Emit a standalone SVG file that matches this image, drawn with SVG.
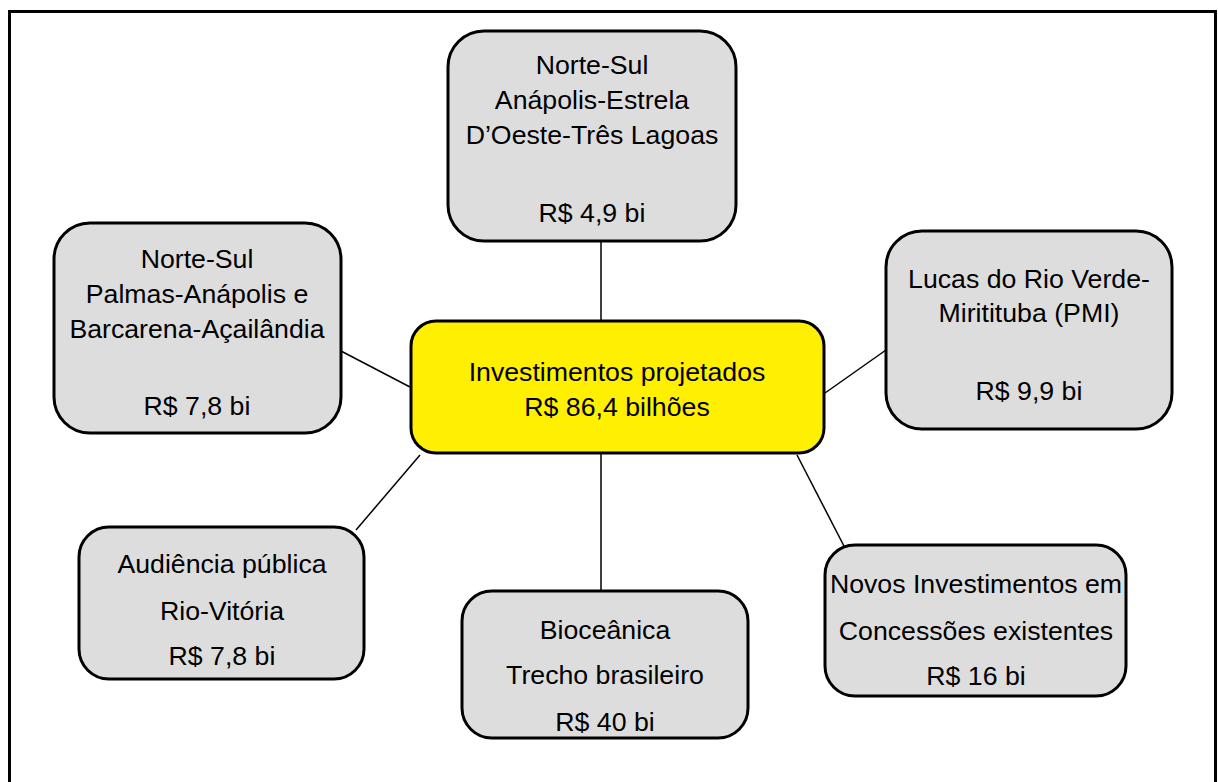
<svg xmlns="http://www.w3.org/2000/svg" width="1218" height="782" viewBox="0 0 1218 782">
<style>
.node{fill:#dddddd;stroke:#000;stroke-width:3}
.center{fill:#ffef00;stroke:#000;stroke-width:3}
text{font-family:"Liberation Sans",Arial,sans-serif;font-size:26.7px;fill:#000;text-anchor:middle}
.conn line{stroke:#000;stroke-width:1.5}
</style>
<rect x="9.5" y="11.5" width="1206" height="790" fill="#fff" stroke="#000" stroke-width="3"/>
<g class="conn" id="connectors">
<line x1="601" y1="241" x2="601" y2="320"/>
<line x1="341" y1="351" x2="410" y2="387"/>
<line x1="886" y1="350" x2="825" y2="393"/>
<line x1="420" y1="455" x2="356" y2="530"/>
<line x1="601" y1="453" x2="601" y2="591"/>
<line x1="797" y1="455" x2="845" y2="548"/>
</g>
<g id="n-top">
<rect class="node" x="448" y="31" width="288" height="210" rx="36"/>
<text x="592" y="74">Norte-Sul</text>
<text x="592" y="109">Anápolis-Estrela</text>
<text x="592" y="144">D’Oeste-Três Lagoas</text>
<text x="592" y="222">R$ 4,9 bi</text>
</g>
<g id="n-left">
<rect class="node" x="54" y="223" width="287" height="210" rx="36"/>
<text x="197" y="268">Norte-Sul</text>
<text x="197" y="303">Palmas-Anápolis e</text>
<text x="197" y="338">Barcarena-Açailândia</text>
<text x="197" y="415">R$ 7,8 bi</text>
</g>
<g id="n-right">
<rect class="node" x="886" y="231" width="286" height="198" rx="36"/>
<text x="1029" y="288">Lucas do Rio Verde-</text>
<text x="1029" y="322">Miritituba (PMI)</text>
<text x="1029" y="400">R$ 9,9 bi</text>
</g>
<g id="n-center">
<rect class="center" x="411" y="321" width="413" height="132" rx="25"/>
<text x="617" y="381">Investimentos projetados</text>
<text x="617" y="416">R$ 86,4 bilhões</text>
</g>
<g id="n-bottom-left">
<rect class="node" x="79" y="527" width="285" height="152" rx="30"/>
<text x="222" y="573">Audiência pública</text>
<text x="222" y="620">Rio-Vitória</text>
<text x="222" y="665">R$ 7,8 bi</text>
</g>
<g id="n-bottom-center">
<rect class="node" x="462" y="591" width="286" height="147" rx="30"/>
<text x="605" y="639">Bioceânica</text>
<text x="605" y="684">Trecho brasileiro</text>
<text x="605" y="731">R$ 40 bi</text>
</g>
<g id="n-bottom-right">
<rect class="node" x="825" y="545" width="301" height="151" rx="30"/>
<text x="976" y="593">Novos Investimentos em</text>
<text x="976" y="640">Concessões existentes</text>
<text x="976" y="685">R$ 16 bi</text>
</g>
</svg>
